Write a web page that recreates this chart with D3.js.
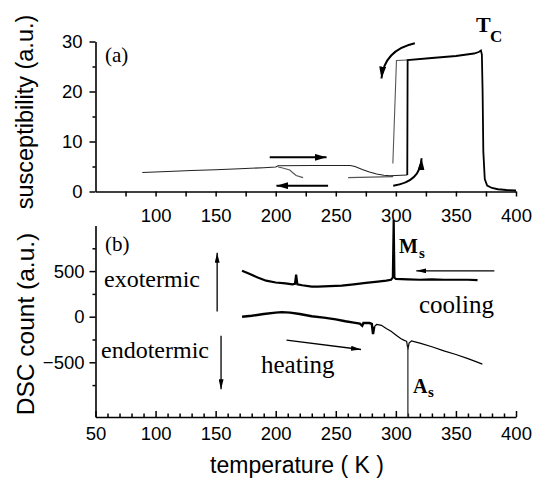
<!DOCTYPE html>
<html><head><meta charset="utf-8">
<script src="https://cdn.jsdelivr.net/npm/d3@7"></script>
<style>body{margin:0;background:#fff} svg{display:block}</style>
</head><body><svg id="c" width="542" height="479"></svg>
<script>
// ---- data ----
const xTicksTop = [100,150,200,250,300,350,400];
const xMinorTop = [75,125,175,225,275,325,375];
const yTicksTop = [0,10,20,30];
const yMinorTop = [5,15,25];
const xTicksBottom = [50,100,150,200,250,300,350,400];
const xMinorBottom = [60,70,80,90,110,120,130,140,160,170,180,190,210,220,230,240,260,270,280,290,310,320,330,340,360,370,380,390];
const yTicksBottom = [-500,0,500];
const yMinorBottom = [-750,-250,250,750];

// susceptibility (a.u.) vs temperature (K)
const suscHeating = [[89,3.8],[110,4.0],[130,4.2],[150,4.35],[170,4.55],[190,4.75],[200,4.9],[202,5.15],[230,5.2],[262,5.2],[266,5.0],[272,4.4],[278,3.9],[284,3.5],[290,3.25],[295,3.15],[309.5,3.3],[309.8,26.3],[330,26.7],[350,27.1],[365,27.6],[369,27.9],[370.8,28.2],[371.6,27.4],[372.2,20],[372.8,8],[374,2.5],[376,1.2],[380,0.7],[385,0.45],[392,0.3],[400,0.2]];
const suscCooling = [[309.8,26.3],[300.5,26.2],[297.5,5.6],null,[297.8,2.97],[260.3,2.77],null,[222.8,2.77],[217,3.2],[214,3.8],[211.7,4.3],[205,4.75],[202,4.9]];

// DSC count (a.u.) vs temperature (K)
const dscCooling = [[172,505],[178,470],[185,430],[192,395],[200,375],[208,365],[214,355],[216,360],[217,460],[218,355],[222,345],[230,330],[235,330],[245,335],[255,340],[265,355],[275,370],[285,385],[292,395],[296,405],[297.5,430],[298.2,1060],[298.8,430],[300,415],[310,410],[320,405],[330,410],[340,405],[350,405],[360,405],[368,400]];
const dscHeating = [[172,0],[180,10],[190,30],[200,45],[205,50],[212,45],[220,30],[230,5],[240,-10],[250,-30],[258,-50],[265,-65],[270,-75],[272,-100],[273,-70],[278,-70],[280,-80],[281,-190],[282,-110],[284,-85],[288,-95],[292,-130],[296,-160],[300,-200],[304,-240],[307,-260],[309,-270],[310,-360],[311,-290],[313,-265],[320,-290],[330,-330],[340,-375],[350,-415],[360,-460],[365,-485],[372,-520]];
const asLine = [[310,-330],[310,-1100]];

// ---- chart ----
const svg = d3.select("#c");
const x = d3.scaleLinear([50,400],[95.5,516]);
const yTop = d3.scaleLinear([0,30],[191.5,41.5]);
const yBot = d3.scaleLinear([-1100,1000],[417,225.5]);

const defs = svg.append("defs");
function marker(id, len, wid){
  defs.append("marker").attr("id",id).attr("markerUnits","userSpaceOnUse")
    .attr("viewBox",`0 ${-wid/2} ${len} ${wid}`).attr("refX",len).attr("refY",0)
    .attr("markerWidth",len).attr("markerHeight",wid).attr("orient","auto")
    .append("path").attr("d",`M0,${-wid/2}L${len},0L0,${wid/2}Z`).attr("fill","#000");
}
marker("ahBig",12,7);
marker("ahSmall",10,5);

const sansFont = "'Liberation Sans', Arial, sans-serif";
const serifFont = "'Liberation Serif', 'Times New Roman', serif";

function styleAxis(g){
  g.selectAll("path.domain").attr("stroke","#000").attr("stroke-width",1.6);
  g.selectAll(".tick line").attr("stroke","#000").attr("stroke-width",1.5);
  g.selectAll(".tick text").attr("font-family",sansFont).attr("font-size",18.5).attr("fill","#000");
}

// top axes
svg.append("g").attr("transform",`translate(0,${yTop(0)})`)
  .call(d3.axisBottom(x).tickValues(xTicksTop).tickSize(5).tickSizeOuter(0).tickPadding(12)).call(styleAxis);
svg.append("g").attr("transform",`translate(0,${yTop(0)})`)
  .call(d3.axisBottom(x).tickValues(xMinorTop).tickSize(5).tickFormat("")).call(g=>g.select(".domain").remove()).call(styleAxis);
svg.append("g").attr("transform",`translate(${x(50)},0)`)
  .call(d3.axisLeft(yTop).tickValues(yTicksTop).tickSize(6).tickSizeOuter(0).tickPadding(7)).call(styleAxis);
svg.append("g").attr("transform",`translate(${x(50)},0)`)
  .call(d3.axisLeft(yTop).tickValues(yMinorTop).tickSize(3).tickFormat("")).call(g=>g.select(".domain").remove()).call(styleAxis);

// bottom axes
svg.append("g").attr("transform",`translate(0,${yBot(-1100)})`)
  .call(d3.axisBottom(x).tickValues(xTicksBottom).tickSize(-6).tickSizeOuter(0).tickPadding(10)).call(styleAxis);
svg.append("g").attr("transform",`translate(0,${yBot(-1100)})`)
  .call(d3.axisBottom(x).tickValues(xMinorBottom).tickSize(-3.5).tickFormat("")).call(g=>g.select(".domain").remove()).call(styleAxis);
svg.append("g").attr("transform",`translate(${x(50)},0)`)
  .call(d3.axisLeft(yBot).tickValues(yTicksBottom).tickSize(6).tickSizeOuter(0).tickPadding(5)).call(styleAxis);
svg.append("g").attr("transform",`translate(${x(50)},0)`)
  .call(d3.axisLeft(yBot).tickValues(yMinorBottom).tickSize(3).tickFormat("")).call(g=>g.select(".domain").remove()).call(styleAxis);

// axis titles
svg.append("text").attr("transform","translate(33,112) rotate(-90)").attr("text-anchor","middle")
  .attr("font-family",sansFont).attr("font-size",23.5).text("susceptibility (a.u.)");
svg.append("text").attr("transform","translate(34,324) rotate(-90)").attr("text-anchor","middle")
  .attr("font-family",sansFont).attr("font-size",24.5).text("DSC count (a.u.)");
svg.append("text").attr("x",297).attr("y",473).attr("text-anchor","middle")
  .attr("font-family",sansFont).attr("font-size",23).text("temperature ( K )");

// curves
const lineTop = d3.line().defined(d=>d).x(d=>x(d[0])).y(d=>yTop(d[1]));
const lineBot = d3.line().defined(d=>d).x(d=>x(d[0])).y(d=>yBot(d[1]));

svg.append("path").attr("d",lineTop(suscCooling)).attr("fill","none").attr("stroke","#555").attr("stroke-width",1.1);
svg.append("path").attr("d",lineTop(suscHeating.filter(d=>d[0]<=309.6))).attr("fill","none").attr("stroke","#222").attr("stroke-width",1.1);
svg.append("path").attr("d",lineTop(suscHeating.filter(d=>d[0]>=309.5))).attr("fill","none").attr("stroke","#000").attr("stroke-width",1.8);

svg.append("path").attr("d",lineBot(dscCooling)).attr("fill","none").attr("stroke","#000").attr("stroke-width",2.2);
svg.append("path").attr("d",lineBot(dscHeating.filter(d=>d[0]<=282))).attr("fill","none").attr("stroke","#000").attr("stroke-width",2.4);
svg.append("path").attr("d",lineBot(dscHeating.filter(d=>d[0]>=282))).attr("fill","none").attr("stroke","#000").attr("stroke-width",1.2);
svg.append("path").attr("d",lineBot(asLine)).attr("fill","none").attr("stroke","#444").attr("stroke-width",1.4);

// arrows
function arrow(pts, yS, mk, w){
  svg.append("path").attr("d",d3.line().x(d=>x(d[0])).y(d=>yS(d[1]))(pts))
    .attr("fill","none").attr("stroke","#000").attr("stroke-width",w).attr("marker-end",`url(#${mk})`);
}
function curveArrow(p0, c, p1, yS, mk, w){
  const p = d3.path();
  p.moveTo(x(p0[0]), yS(p0[1]));
  p.quadraticCurveTo(x(c[0]), yS(c[1]), x(p1[0]), yS(p1[1]));
  svg.append("path").attr("d",p.toString()).attr("fill","none").attr("stroke","#000").attr("stroke-width",w).attr("marker-end",`url(#${mk})`);
}
arrow([[195,6.84],[242.3,6.84]], yTop, "ahBig", 2);
arrow([[243.6,1.16],[200.6,1.16]], yTop, "ahBig", 2);
curveArrow([315.8,29.64],[290.5,28.3],[288,22.6], yTop, "ahBig", 2);
curveArrow([297.8,1.16],[320.5,1.9],[321.4,6.64], yTop, "ahBig", 2);

arrow([[151.25,57],[151.25,700]], yBot, "ahSmall", 1.3);
arrow([[154.5,-208],[154.5,-796]], yBot, "ahSmall", 1.3);
arrow([[382,503],[317,503]], yBot, "ahSmall", 1.3);
arrow([[209,-258],[271,-360]], yBot, "ahSmall", 1.3);

// annotations
function txt(xp, yp, s, size, weight){
  return svg.append("text").attr("x",xp).attr("y",yp).attr("font-family",serifFont)
    .attr("font-size",size).attr("font-weight",weight||"normal").text(s);
}
txt(105,62,"(a)",21);
txt(105,251,"(b)",21);
txt(476,32,"T",22,"bold");
txt(490,42,"C",17,"bold");
txt(399,253,"M",20,"bold");
txt(419,258,"s",15,"bold");
txt(413,393,"A",20,"bold");
txt(428,397,"s",15,"bold");
txt(104,287,"exotermic",24);
txt(419,313,"cooling",25);
txt(101,358,"endotermic",24);
txt(261,373,"heating",25);
</script></body></html>
